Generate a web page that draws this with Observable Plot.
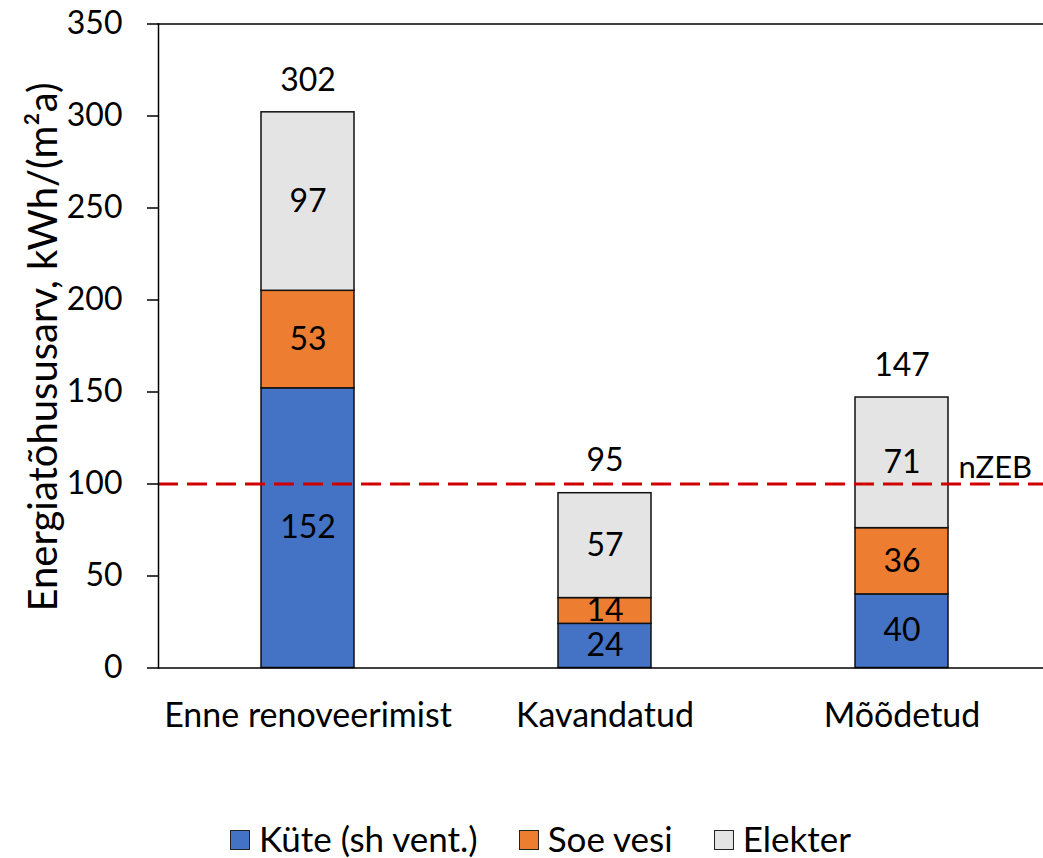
<!DOCTYPE html>
<html>
<head>
<meta charset="utf-8">
<script src="https://cdn.jsdelivr.net/npm/d3@7"></script>
<script src="https://cdn.jsdelivr.net/npm/@observablehq/plot@0.6"></script>
<style>
  html, body { margin: 0; padding: 0; background: #fff; overflow: hidden; }
  #chart { position: relative; width: 1043px; }
  .legend { display: flex; align-items: center; height: 68px; margin-top: 14px; padding-left: 230px; font-family: Lato, sans-serif; font-size: 35px; color: #000; }
  .legend .item { display: flex; align-items: center; margin-right: 41px; }
  .legend .sw { width: 18px; height: 18px; border: 1.5px solid #222; margin-right: 9px; margin-top: 4px; }
</style>
</head>
<body>
<div id="chart"></div>
<script>
const categories = ["Enne renoveerimist", "Kavandatud", "Mõõdetud"];
const seriesNames = ["Küte (sh vent.)", "Soe vesi", "Elekter"];
const kute = [152, 24, 40];
const soeVesi = [53, 14, 36];
const elekter = [97, 57, 71];
const totals = [302, 95, 147];
const nzeb = 100;
const nzebLabel = "nZEB";
const yTicks = [0, 50, 100, 150, 200, 250, 300, 350];
const yLabel = "Energiatõhususarv, kWh/(m²a)";
const colors = ["#4472C4", "#ED7D31", "#E5E4E4"];

const seriesValues = [kute, soeVesi, elekter];
const data = [];
categories.forEach((c, i) => {
  seriesNames.forEach((s, j) => data.push({cat: c, series: s, value: seriesValues[j][i]}));
});
const totalData = categories.map((c, i) => ({cat: c, total: totals[i]}));

const W = 1043, H = 790;
const fs = 31;
const plot = Plot.plot({
  width: W,
  height: H,
  marginLeft: 158,
  marginRight: 0,
  marginTop: 23.5,
  marginBottom: 122.5,
  style: {fontFamily: "Lato, sans-serif", fontSize: fs + "px", color: "#000", background: "#fff", overflow: "visible"},
  x: {domain: categories, range: [158, 1051], paddingInner: 0.6875, paddingOuter: 0.34375},
  y: {domain: [0, 350]},
  color: {domain: seriesNames, range: colors},
  marks: [
    Plot.barY(data, {x: "cat", y: "value", fill: "series", stroke: "#111", strokeWidth: 1.5}),
    Plot.ruleY([nzeb], {stroke: "#D00000", strokeWidth: 3, strokeDasharray: "20,9"}),
    Plot.text(data, Plot.stackY({x: "cat", y: "value", z: "series", text: d => String(d.value), fill: "#000", fontSize: 32})),
    Plot.text(totalData, {x: "cat", y: "total", text: d => String(d.total), dy: -32, fill: "#000", fontSize: 32}),
    Plot.text([nzeb], {y: d => d, text: () => nzebLabel, frameAnchor: "right", textAnchor: "start", dx: -85, dy: -16, fill: "#000", fontSize: fs}),
    Plot.frame({anchor: "left", stroke: "#000", strokeWidth: 1.5}),
    Plot.frame({anchor: "top", stroke: "#000", strokeWidth: 1.5}),
    Plot.ruleY([0], {stroke: "#000", strokeWidth: 1.5}),
    Plot.axisY({ticks: yTicks, tickSize: 11, tickPadding: 25, tickFormat: d => String(d), label: null, fontSize: 32, stroke: "#000", strokeWidth: 1.5}),
    Plot.axisX({tickSize: 0, tickPadding: 35, label: null, fontSize: 34})
  ]
});
document.getElementById("chart").appendChild(plot);

// y axis title
const svg = d3.select(plot);
svg.append("text")
  .attr("transform", `translate(57, 347) rotate(-90)`)
  .attr("text-anchor", "middle")
  .attr("font-family", "Lato, sans-serif")
  .attr("font-size", 40)
  .attr("fill", "#000")
  .text(yLabel);

// legend
const legend = d3.select("#chart").append("div").attr("class", "legend");
seriesNames.forEach((s, i) => {
  const it = legend.append("div").attr("class", "item");
  it.append("div").attr("class", "sw").style("background", colors[i]);
  it.append("span").text(s);
});
</script>
</body>
</html>
